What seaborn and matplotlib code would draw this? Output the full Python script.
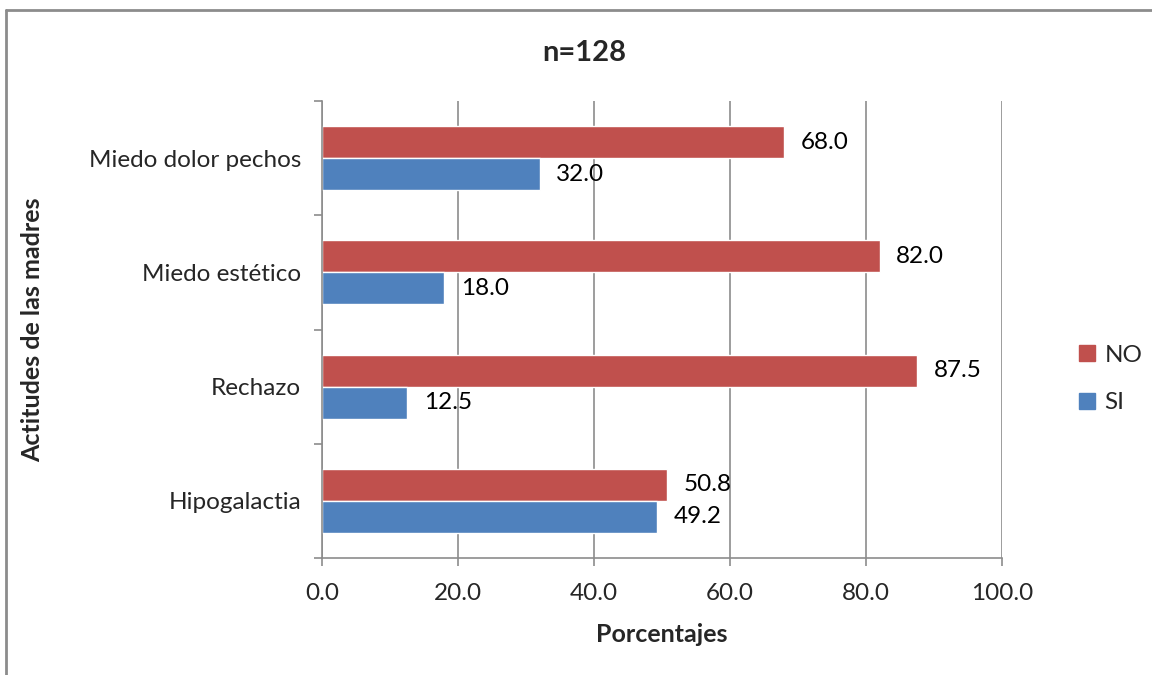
import matplotlib
matplotlib.use("Agg")
import matplotlib.pyplot as plt
from matplotlib.lines import Line2D
import seaborn as sns
import pandas as pd

categorias = ["Miedo dolor pechos", "Miedo estético", "Rechazo", "Hipogalactia"]
valores_no = [68.0, 82.0, 87.5, 50.8]
valores_si = [32.0, 18.0, 12.5, 49.2]
series = ["NO", "SI"]
colores = {"NO": "#C0504D", "SI": "#4F81BD"}
ticks_x = [0, 20, 40, 60, 80, 100]

df = pd.DataFrame({
    "Actitud": categorias * 2,
    "Respuesta": ["NO"] * len(categorias) + ["SI"] * len(categorias),
    "Porcentaje": valores_no + valores_si,
})

sns.set_theme(style="white")
plt.rcParams["font.family"] = ["Lato", "DejaVu Sans"]

fs = 17.5
fig = plt.figure(figsize=(11.52, 6.75), dpi=100)
ax = fig.add_axes([322 / 1152, 1 - 558 / 675, 680 / 1152, 457 / 675])

sns.barplot(data=df, y="Actitud", x="Porcentaje", hue="Respuesta",
            order=categorias, hue_order=series, palette=colores,
            orient="h", width=0.56, dodge=True, saturation=1,
            legend=False, ax=ax)

ax.set_xlim(0, 100)
ax.set_ylim(len(categorias) - 0.5, -0.5)
ax.set_xticks(ticks_x)
ax.set_xticklabels([f"{t:.1f}" for t in ticks_x], fontsize=fs)
ax.xaxis.grid(True, color="#8c8c8c", linewidth=1.2)
ax.set_axisbelow(True)

# category labels centred, tick marks at category boundaries
ax.set_yticks(range(len(categorias)))
ax.set_yticklabels(categorias, fontsize=fs)
ax.tick_params(axis="y", length=0, pad=15)
ax.set_yticks([i - 0.5 for i in range(len(categorias) + 1)], minor=True)
ax.tick_params(axis="y", which="minor", length=6, color="#8c8c8c", width=1.2, left=True)
ax.tick_params(axis="x", length=6, color="#8c8c8c", width=1.2, bottom=True, pad=12)

for side in ["top", "right"]:
    ax.spines[side].set_visible(False)
for side in ["left", "bottom"]:
    ax.spines[side].set_color("#8c8c8c")
    ax.spines[side].set_linewidth(1.2)

for cont in ax.containers:
    ax.bar_label(cont, labels=[f"{v:.1f}" for v in cont.datavalues],
                 padding=12, fontsize=fs, color="black")

ax.set_xlabel("Porcentajes", fontsize=18, fontweight="bold", labelpad=14)
ax.set_ylabel("")
fig.text(33 / 1152, 1 - 330 / 675, "Actitudes de las madres", rotation=90,
         fontsize=18, fontweight="bold", ha="center", va="center")
fig.text(584 / 1152, 1 - 53 / 675, "n=128", fontsize=21, fontweight="bold",
         ha="center", va="center")

handles = [Line2D([], [], marker="s", linestyle="none", markersize=12,
                  markerfacecolor=colores[s], markeredgecolor=colores[s]) for s in series]
fig.legend(handles, series, loc="center left", bbox_to_anchor=(1068 / 1152, 1 - 379 / 675),
           frameon=False, fontsize=fs, handlelength=0.8, handletextpad=0.3,
           labelspacing=1.1, borderaxespad=0)

# chart border
fig.add_artist(Line2D([6 / 1152, 6 / 1152], [0, 1 - 10 / 675], transform=fig.transFigure,
                      color="#8c8c8c", linewidth=2))
fig.add_artist(Line2D([6 / 1152, 1], [1 - 10 / 675, 1 - 10 / 675], transform=fig.transFigure,
                      color="#8c8c8c", linewidth=2))

fig.savefig("out.png", dpi=100, facecolor="white")
